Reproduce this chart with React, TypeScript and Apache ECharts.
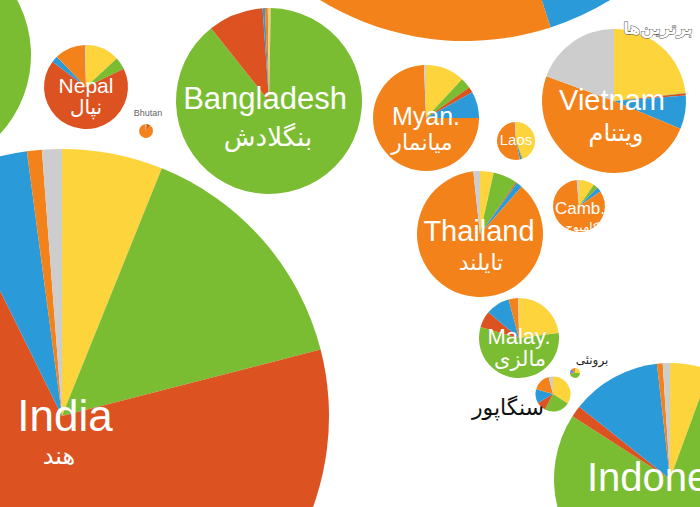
import React, { useEffect, useRef } from "react";
import * as echarts from "echarts";

// Categories (slice order, clockwise from 12 o'clock)
const categories = ["Other", "Muslim", "Hindu", "Christian", "Buddhist", "Folk"];
const colors = ["#FDD43B", "#7BBD32", "#DD5221", "#2A9AD8", "#F3821A", "#CDCDCD"];

// Shares per country (%)
const china = [10, 3, 2, 30, 50, 5];
const pakistan = [8, 52, 25, 10, 3, 2];
const india = [6.1, 14.9, 71.7, 5.2, 0.9, 1.2];
const nepal = [13.1, 4.7, 67.5, 2.5, 11.8, 0.4];
const bhutan = [0, 2, 8, 0, 89, 1];
const bangladesh = [0.3, 89, 9.6, 0.4, 0.5, 0.2];
const myanmar = [11.9, 3.3, 1.7, 8.1, 74.4, 0.6];
const laos = [44.4, 0.3, 0.3, 1.7, 52.3, 1];
const vietnam = [23.2, 0.1, 0.5, 7.5, 49.3, 19.4];
const thailand = [3.5, 6.2, 0.3, 1.5, 86.8, 1.7];
const cambodia = [9.7, 2.8, 0.2, 2.8, 83.1, 1.4];
const malaysia = [23, 56.4, 6.7, 9.7, 3.9, 0.3];
const brunei = [25, 48, 4, 10, 13, 0];
const singapore = [34, 23.6, 8.9, 12.8, 16.7, 4];
const indonesia = [5.6, 78.5, 1.6, 12.5, 0.8, 1];

const countries = [
  { name: "China", values: china },
  { name: "Pakistan", values: pakistan },
  { name: "India", values: india },
  { name: "Nepal", values: nepal },
  { name: "Bhutan", values: bhutan },
  { name: "Bangladesh", values: bangladesh },
  { name: "Myanmar", values: myanmar },
  { name: "Laos", values: laos },
  { name: "Vietnam", values: vietnam },
  { name: "Thailand", values: thailand },
  { name: "Cambodia", values: cambodia },
  { name: "Malaysia", values: malaysia },
  { name: "Brunei", values: brunei },
  { name: "Singapore", values: singapore },
  { name: "Indonesia", values: indonesia },
];

// Layout (pixels): center and radius of each bubble
const layout: Record<string, { c: [number, number]; r: number }> = {
  China: { c: [465, -236], r: 277 },
  Pakistan: { c: [-85, 55], r: 116 },
  India: { c: [62, 416], r: 267 },
  Nepal: { c: [86, 87], r: 42 },
  Bhutan: { c: [146, 131], r: 7 },
  Bangladesh: { c: [269, 101], r: 93 },
  Myanmar: { c: [426, 118], r: 53 },
  Laos: { c: [516, 141], r: 19 },
  Vietnam: { c: [614, 101], r: 72 },
  Thailand: { c: [480, 234], r: 63 },
  Cambodia: { c: [579, 206], r: 26 },
  Malaysia: { c: [519, 338], r: 40 },
  Brunei: { c: [575, 373], r: 5 },
  Singapore: { c: [553, 394], r: 17.5 },
  Indonesia: { c: [670, 479], r: 116 },
};

const LAT = '"Liberation Sans", Arial, Helvetica, sans-serif';
const FA = '"DejaVu Sans", "Noto Sans", sans-serif';

type Lbl = { t: string; x: number; y: number; s: number; f: string; c?: string; a?: string };
const labels: Lbl[] = [
  { t: "Nepal", x: 86, y: 85, s: 21, f: LAT },
  { t: "نپال", x: 86, y: 107, s: 20, f: FA },
  { t: "Bhutan", x: 148, y: 113, s: 9, f: LAT, c: "#666" },
  { t: "Bangladesh", x: 265, y: 98, s: 31, f: LAT },
  { t: "بنگلادش", x: 268, y: 137, s: 26, f: FA },
  { t: "Myan.", x: 426, y: 116, s: 25, f: LAT },
  { t: "میانمار", x: 422, y: 142, s: 22, f: FA },
  { t: "Laos", x: 516, y: 139, s: 15, f: LAT },
  { t: "Vietnam", x: 612, y: 100, s: 29, f: LAT },
  { t: "ویتنام", x: 616, y: 133, s: 24, f: FA },
  { t: "Thailand", x: 479, y: 231, s: 29, f: LAT },
  { t: "تایلند", x: 481, y: 262, s: 22, f: FA },
  { t: "Camb.", x: 580, y: 208, s: 17, f: LAT },
  { t: "کامبوج", x: 582, y: 227, s: 12, f: FA },
  { t: "Malay.", x: 519, y: 336, s: 22, f: LAT },
  { t: "مالزی", x: 520, y: 359, s: 21, f: FA },
  { t: "برونئی", x: 592, y: 360, s: 12, f: FA, c: "#222" },
  { t: "سنگاپور", x: 508, y: 407, s: 22, f: FA, c: "#111" },
  { t: "India", x: 65, y: 415, s: 44, f: LAT },
  { t: "هند", x: 59, y: 456, s: 24, f: FA },
  { t: "Indone", x: 587, y: 477, s: 40, f: LAT, a: "left" },
];

export default function App() {
  const ref = useRef<HTMLDivElement>(null);
  useEffect(() => {
    document.body.style.margin = "0";
    const chart = echarts.init(ref.current!, null, { renderer: "svg" });
    const series = countries.map((cty) => ({
      type: "pie",
      name: cty.name,
      center: layout[cty.name].c,
      radius: layout[cty.name].r,
      startAngle: 90,
      clockwise: true,
      silent: true,
      avoidLabelOverlap: false,
      label: { show: false },
      labelLine: { show: false },
      itemStyle: { borderWidth: 0 },
      emphasis: { disabled: true },
      data: categories.map((name, i) => ({
        name,
        value: cty.values[i],
        itemStyle: { color: colors[i] },
      })),
    }));
    const graphic: any[] = labels.map((l) => ({
      type: "text",
      x: l.x,
      y: l.y,
      silent: true,
      z: 100,
      style: {
        text: l.t,
        fill: l.c || "#ffffff",
        font: `${l.s}px ${l.f}`,
        fontSize: l.s,
        fontFamily: l.f,
        align: l.a || "center",
        textAlign: l.a || "center",
        verticalAlign: "middle",
        textVerticalAlign: "middle",
      },
    }));
    graphic.push({
      type: "text",
      x: 658,
      y: 28,
      z: 100,
      silent: true,
      style: {
        text: "برترین‌ها",
        fill: "#ffffff",
        stroke: "#555555",
        lineWidth: 1,
        font: `bold 16px ${FA}`,
        align: "center",
        textAlign: "center",
        verticalAlign: "middle",
        textVerticalAlign: "middle",
      },
    });
    chart.setOption({
      animation: false,
      backgroundColor: "#ffffff",
      color: colors,
      series,
      graphic,
    });
    return () => chart.dispose();
  }, []);
  return <div ref={ref} style={{ width: 700, height: 507 }} />;
}
